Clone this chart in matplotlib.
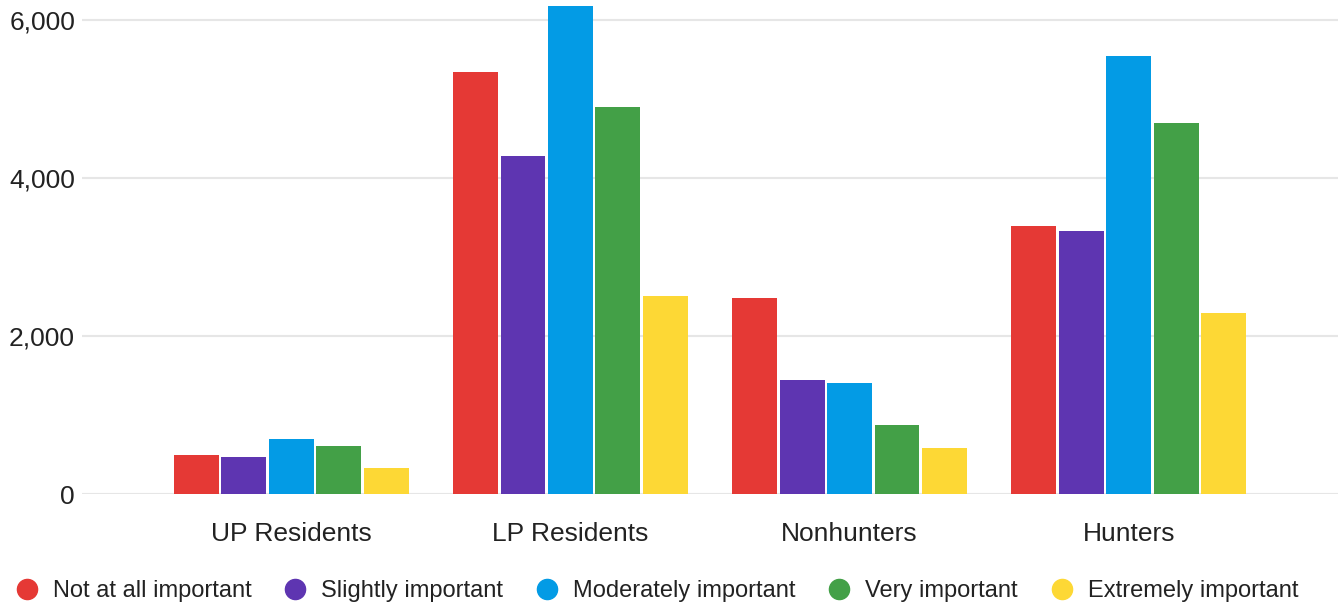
import numpy as np
import matplotlib
matplotlib.use("Agg")
import matplotlib.pyplot as plt

plt.rcParams['font.family'] = ['Liberation Sans', 'DejaVu Sans']

groups = ["UP Residents", "LP Residents", "Nonhunters", "Hunters"]
series = ["Not at all important", "Slightly important", "Moderately important",
          "Very important", "Extremely important"]
not_at_all = [494, 5342, 2481, 3392]
slightly = [468, 4279, 1443, 3329]
moderately = [696, 6177, 1405, 5544]
very = [608, 4899, 873, 4696]
extremely = [329, 2506, 582, 2291]
colors = ["#E53935", "#5E35B1", "#039BE5", "#43A047", "#FDD835"]

values = [not_at_all, slightly, moderately, very, extremely]

fig = plt.figure(figsize=(13.4, 6.07), dpi=100)
ax = fig.add_axes([82 / 1340, 113 / 607, 1256 / 1340, 494 / 607])

x = np.arange(len(groups))
pitch = 0.17
width = 0.161
for i, (name, vals, c) in enumerate(zip(series, values, colors)):
    ax.bar(x + (i - 2) * pitch, vals, width, color=c, label=name, zorder=3)

ax.set_xlim(-0.75, 3.75)
ax.set_ylim(0, 6250)
ax.set_yticks([0, 2000, 4000, 6000])
ax.set_yticklabels(["0", "2,000", "4,000", "6,000"])
ax.set_xticks(x)
ax.set_xticklabels(groups)
ax.tick_params(axis='y', length=0, pad=5, labelsize=19, labelcolor="#222222")
ax.tick_params(axis='x', length=0, pad=20, labelsize=19, labelcolor="#222222")
ax.grid(axis='y', color="#e6e6e6", linewidth=1.5, zorder=0)
for s in ax.spines.values():
    s.set_visible(False)

handles = [plt.Line2D([], [], marker='o', linestyle='none', markersize=14.5,
                      color=c) for c in colors]
fig.legend(handles, series, loc='center', bbox_to_anchor=(0.490, 1 - 591 / 607),
           ncol=5, frameon=False, fontsize=17, handlelength=1.0,
           handletextpad=0.6, columnspacing=1.36, borderpad=0,
           labelcolor="#222222")

fig.savefig("out.png", dpi=100)
